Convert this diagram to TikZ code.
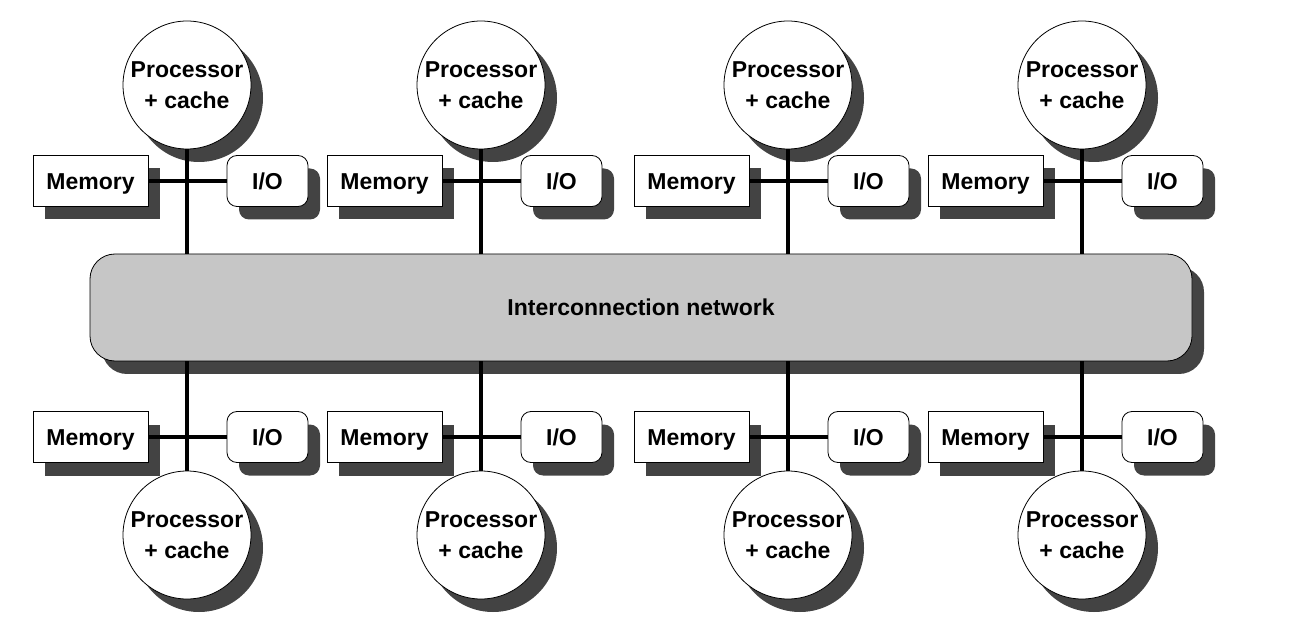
\documentclass[tikz,border=0pt]{standalone}
\usepackage{fontspec}
\setmainfont{Liberation Sans}
\usetikzlibrary{shadows}
\definecolor{shad}{HTML}{434343}
\definecolor{netgray}{HTML}{C6C6C6}
\tikzset{
  sh/.style={drop shadow={shadow xshift=12pt, shadow yshift=-13pt, fill=shad, opacity=1}},
  lbl/.style={font=\bfseries\fontsize{23}{31}\selectfont},
  proc/.style={circle, draw=black, line width=0.8pt, fill=white, minimum size=128pt,
    inner sep=0pt, align=center, sh, lbl},
  mem/.style={rectangle, draw=black, line width=0.8pt, fill=white, minimum width=115pt,
    minimum height=51pt, inner sep=0pt, text height=16.5pt, text depth=0pt, sh, lbl},
  iobox/.style={rectangle, draw=black, line width=0.8pt, fill=white, rounded corners=10pt,
    minimum width=81pt, minimum height=51pt, inner sep=0pt, text height=16.5pt, text depth=0pt, sh, lbl},
  netbox/.style={rectangle, draw=black, line width=0.8pt, fill=netgray, rounded corners=25pt,
    minimum width=1102pt, minimum height=107pt, inner sep=0pt, text height=16.5pt, text depth=0pt, sh, lbl},
  bus/.style={line width=4pt},
}
\begin{document}
\begin{tikzpicture}[x=1pt,y=-1pt]
\useasboundingbox (0,0) rectangle (1294,636);
\node[netbox] (net) at (641,307.5) {Interconnection network};
\foreach \x/\i in {187/1,481/2,788/3,1082/4}{
  % top
  \node[proc] (pt\i) at (\x,85) {Processor\\+ cache};
  \node[mem] (mt\i) at (\x-96.5,181) {Memory};
  \node[iobox] (it\i) at (\x+80.5,181) {I/O};
  \draw[bus] (mt\i.east) -- (it\i.west);
  \draw[bus] (pt\i.south) -- (pt\i.south |- net.north);
  % bottom
  \node[proc] (pb\i) at (\x,535) {Processor\\+ cache};
  \node[mem] (mb\i) at (\x-96.5,437) {Memory};
  \node[iobox] (ib\i) at (\x+80.5,437) {I/O};
  \draw[bus] (mb\i.east) -- (ib\i.west);
  \draw[bus] (pb\i.north) -- (pb\i.north |- net.south);
}
\end{tikzpicture}
\end{document}
